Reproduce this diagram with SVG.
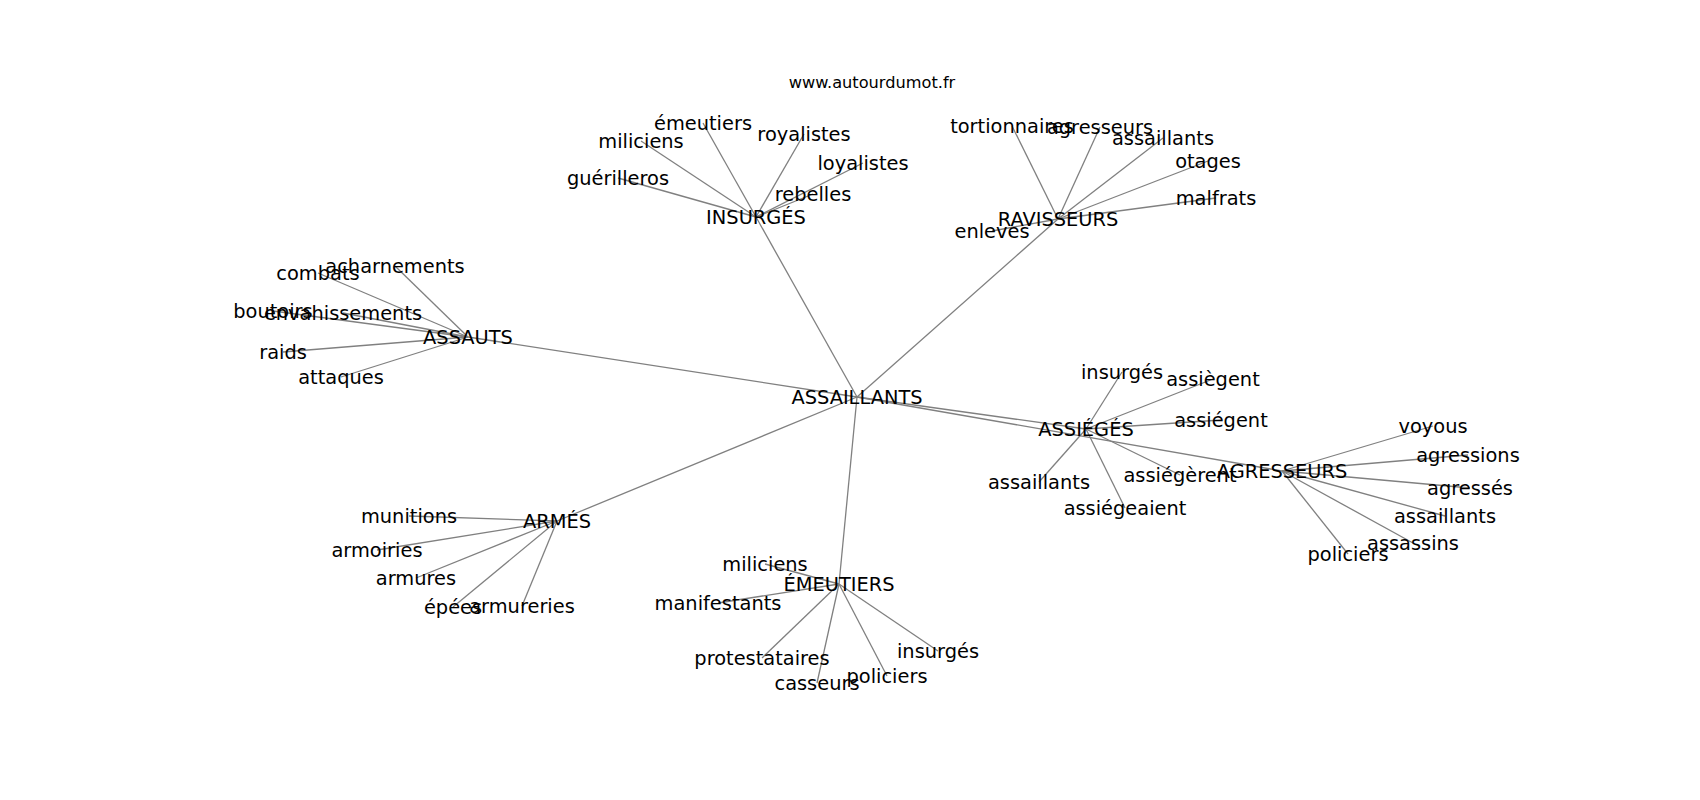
<svg xmlns="http://www.w3.org/2000/svg" width="1700" height="800" viewBox="0 0 1700 800">
<style>
text{font-family:"DejaVu Sans",sans-serif;font-size:19.4px;fill:#000;text-anchor:middle;dominant-baseline:central}
.title{font-size:16.2px}
#edges line{stroke:#808080;stroke-width:1.3}
</style>
<rect width="1700" height="800" fill="#fff"/>
<text class="title" x="872" y="82">www.autourdumot.fr</text>
<g id="edges">
<line x1="857" y1="397" x2="756" y2="217"/>
<line x1="857" y1="397" x2="1058" y2="219"/>
<line x1="857" y1="397" x2="468" y2="337"/>
<line x1="857" y1="397" x2="1086" y2="429"/>
<line x1="857" y1="397" x2="1282" y2="471"/>
<line x1="857" y1="397" x2="557" y2="521"/>
<line x1="857" y1="397" x2="839" y2="584"/>
<line x1="756" y1="217" x2="703" y2="123"/>
<line x1="756" y1="217" x2="641" y2="141"/>
<line x1="756" y1="217" x2="804" y2="134"/>
<line x1="756" y1="217" x2="863" y2="163"/>
<line x1="756" y1="217" x2="618" y2="178"/>
<line x1="756" y1="217" x2="813" y2="194"/>
<line x1="1058" y1="219" x2="1012" y2="126"/>
<line x1="1058" y1="219" x2="1100" y2="127"/>
<line x1="1058" y1="219" x2="1163" y2="138"/>
<line x1="1058" y1="219" x2="1208" y2="161"/>
<line x1="1058" y1="219" x2="1216" y2="198"/>
<line x1="1058" y1="219" x2="992" y2="231"/>
<line x1="468" y1="337" x2="395" y2="266"/>
<line x1="468" y1="337" x2="318" y2="273"/>
<line x1="468" y1="337" x2="273" y2="311"/>
<line x1="468" y1="337" x2="343" y2="313"/>
<line x1="468" y1="337" x2="283" y2="352"/>
<line x1="468" y1="337" x2="341" y2="377"/>
<line x1="1086" y1="429" x2="1122" y2="372"/>
<line x1="1086" y1="429" x2="1213" y2="379"/>
<line x1="1086" y1="429" x2="1221" y2="420"/>
<line x1="1086" y1="429" x2="1039" y2="482"/>
<line x1="1086" y1="429" x2="1180" y2="475"/>
<line x1="1086" y1="429" x2="1125" y2="508"/>
<line x1="1282" y1="471" x2="1433" y2="426"/>
<line x1="1282" y1="471" x2="1468" y2="455"/>
<line x1="1282" y1="471" x2="1470" y2="488"/>
<line x1="1282" y1="471" x2="1445" y2="516"/>
<line x1="1282" y1="471" x2="1413" y2="543"/>
<line x1="1282" y1="471" x2="1348" y2="554"/>
<line x1="557" y1="521" x2="409" y2="516"/>
<line x1="557" y1="521" x2="377" y2="550"/>
<line x1="557" y1="521" x2="416" y2="578"/>
<line x1="557" y1="521" x2="453" y2="607"/>
<line x1="557" y1="521" x2="522" y2="606"/>
<line x1="839" y1="584" x2="765" y2="564"/>
<line x1="839" y1="584" x2="718" y2="603"/>
<line x1="839" y1="584" x2="762" y2="658"/>
<line x1="839" y1="584" x2="817" y2="683"/>
<line x1="839" y1="584" x2="887" y2="676"/>
<line x1="839" y1="584" x2="938" y2="651"/>
</g>
<g id="n-assaillants"><text x="857" y="397">ASSAILLANTS</text></g>
<g id="n-insurges"><text x="756" y="217">INSURGÉS</text></g>
<g id="n-insurges-emeutiers"><text x="703" y="123">émeutiers</text></g>
<g id="n-insurges-miliciens"><text x="641" y="141">miliciens</text></g>
<g id="n-insurges-royalistes"><text x="804" y="134">royalistes</text></g>
<g id="n-insurges-loyalistes"><text x="863" y="163">loyalistes</text></g>
<g id="n-insurges-guerilleros"><text x="618" y="178">guérilleros</text></g>
<g id="n-insurges-rebelles"><text x="813" y="194">rebelles</text></g>
<g id="n-ravisseurs"><text x="1058" y="219">RAVISSEURS</text></g>
<g id="n-rav-tortionnaires"><text x="1012" y="126">tortionnaires</text></g>
<g id="n-rav-agresseurs"><text x="1100" y="127">agresseurs</text></g>
<g id="n-rav-assaillants"><text x="1163" y="138">assaillants</text></g>
<g id="n-rav-otages"><text x="1208" y="161">otages</text></g>
<g id="n-rav-malfrats"><text x="1216" y="198">malfrats</text></g>
<g id="n-rav-enleves"><text x="992" y="231">enleves</text></g>
<g id="n-assauts"><text x="468" y="337">ASSAUTS</text></g>
<g id="n-as-acharnements"><text x="395" y="266">acharnements</text></g>
<g id="n-as-combats"><text x="318" y="273">combats</text></g>
<g id="n-as-boutoirs"><text x="273" y="311">boutoirs</text></g>
<g id="n-as-envahissements"><text x="343" y="313">envahissements</text></g>
<g id="n-as-raids"><text x="283" y="352">raids</text></g>
<g id="n-as-attaques"><text x="341" y="377">attaques</text></g>
<g id="n-assieges"><text x="1086" y="429">ASSIÉGÉS</text></g>
<g id="n-ag-insurges"><text x="1122" y="372">insurgés</text></g>
<g id="n-ag-assiegent1"><text x="1213" y="379">assiègent</text></g>
<g id="n-ag-assiegent2"><text x="1221" y="420">assiégent</text></g>
<g id="n-ag-assaillants"><text x="1039" y="482">assaillants</text></g>
<g id="n-ag-assiegerent"><text x="1180" y="475">assiégèrent</text></g>
<g id="n-ag-assiegeaient"><text x="1125" y="508">assiégeaient</text></g>
<g id="n-agresseurs"><text x="1282" y="471">AGRESSEURS</text></g>
<g id="n-gr-voyous"><text x="1433" y="426">voyous</text></g>
<g id="n-gr-agressions"><text x="1468" y="455">agressions</text></g>
<g id="n-gr-agresses"><text x="1470" y="488">agressés</text></g>
<g id="n-gr-assaillants"><text x="1445" y="516">assaillants</text></g>
<g id="n-gr-assassins"><text x="1413" y="543">assassins</text></g>
<g id="n-gr-policiers"><text x="1348" y="554">policiers</text></g>
<g id="n-armes"><text x="557" y="521">ARMÉS</text></g>
<g id="n-ar-munitions"><text x="409" y="516">munitions</text></g>
<g id="n-ar-armoiries"><text x="377" y="550">armoiries</text></g>
<g id="n-ar-armures"><text x="416" y="578">armures</text></g>
<g id="n-ar-epees"><text x="453" y="607">épées</text></g>
<g id="n-ar-armureries"><text x="522" y="606">armureries</text></g>
<g id="n-emeutiers"><text x="839" y="584">ÉMEUTIERS</text></g>
<g id="n-em-miliciens"><text x="765" y="564">miliciens</text></g>
<g id="n-em-manifestants"><text x="718" y="603">manifestants</text></g>
<g id="n-em-protestataires"><text x="762" y="658">protestataires</text></g>
<g id="n-em-casseurs"><text x="817" y="683">casseurs</text></g>
<g id="n-em-policiers"><text x="887" y="676">policiers</text></g>
<g id="n-em-insurges"><text x="938" y="651">insurgés</text></g>
</svg>
